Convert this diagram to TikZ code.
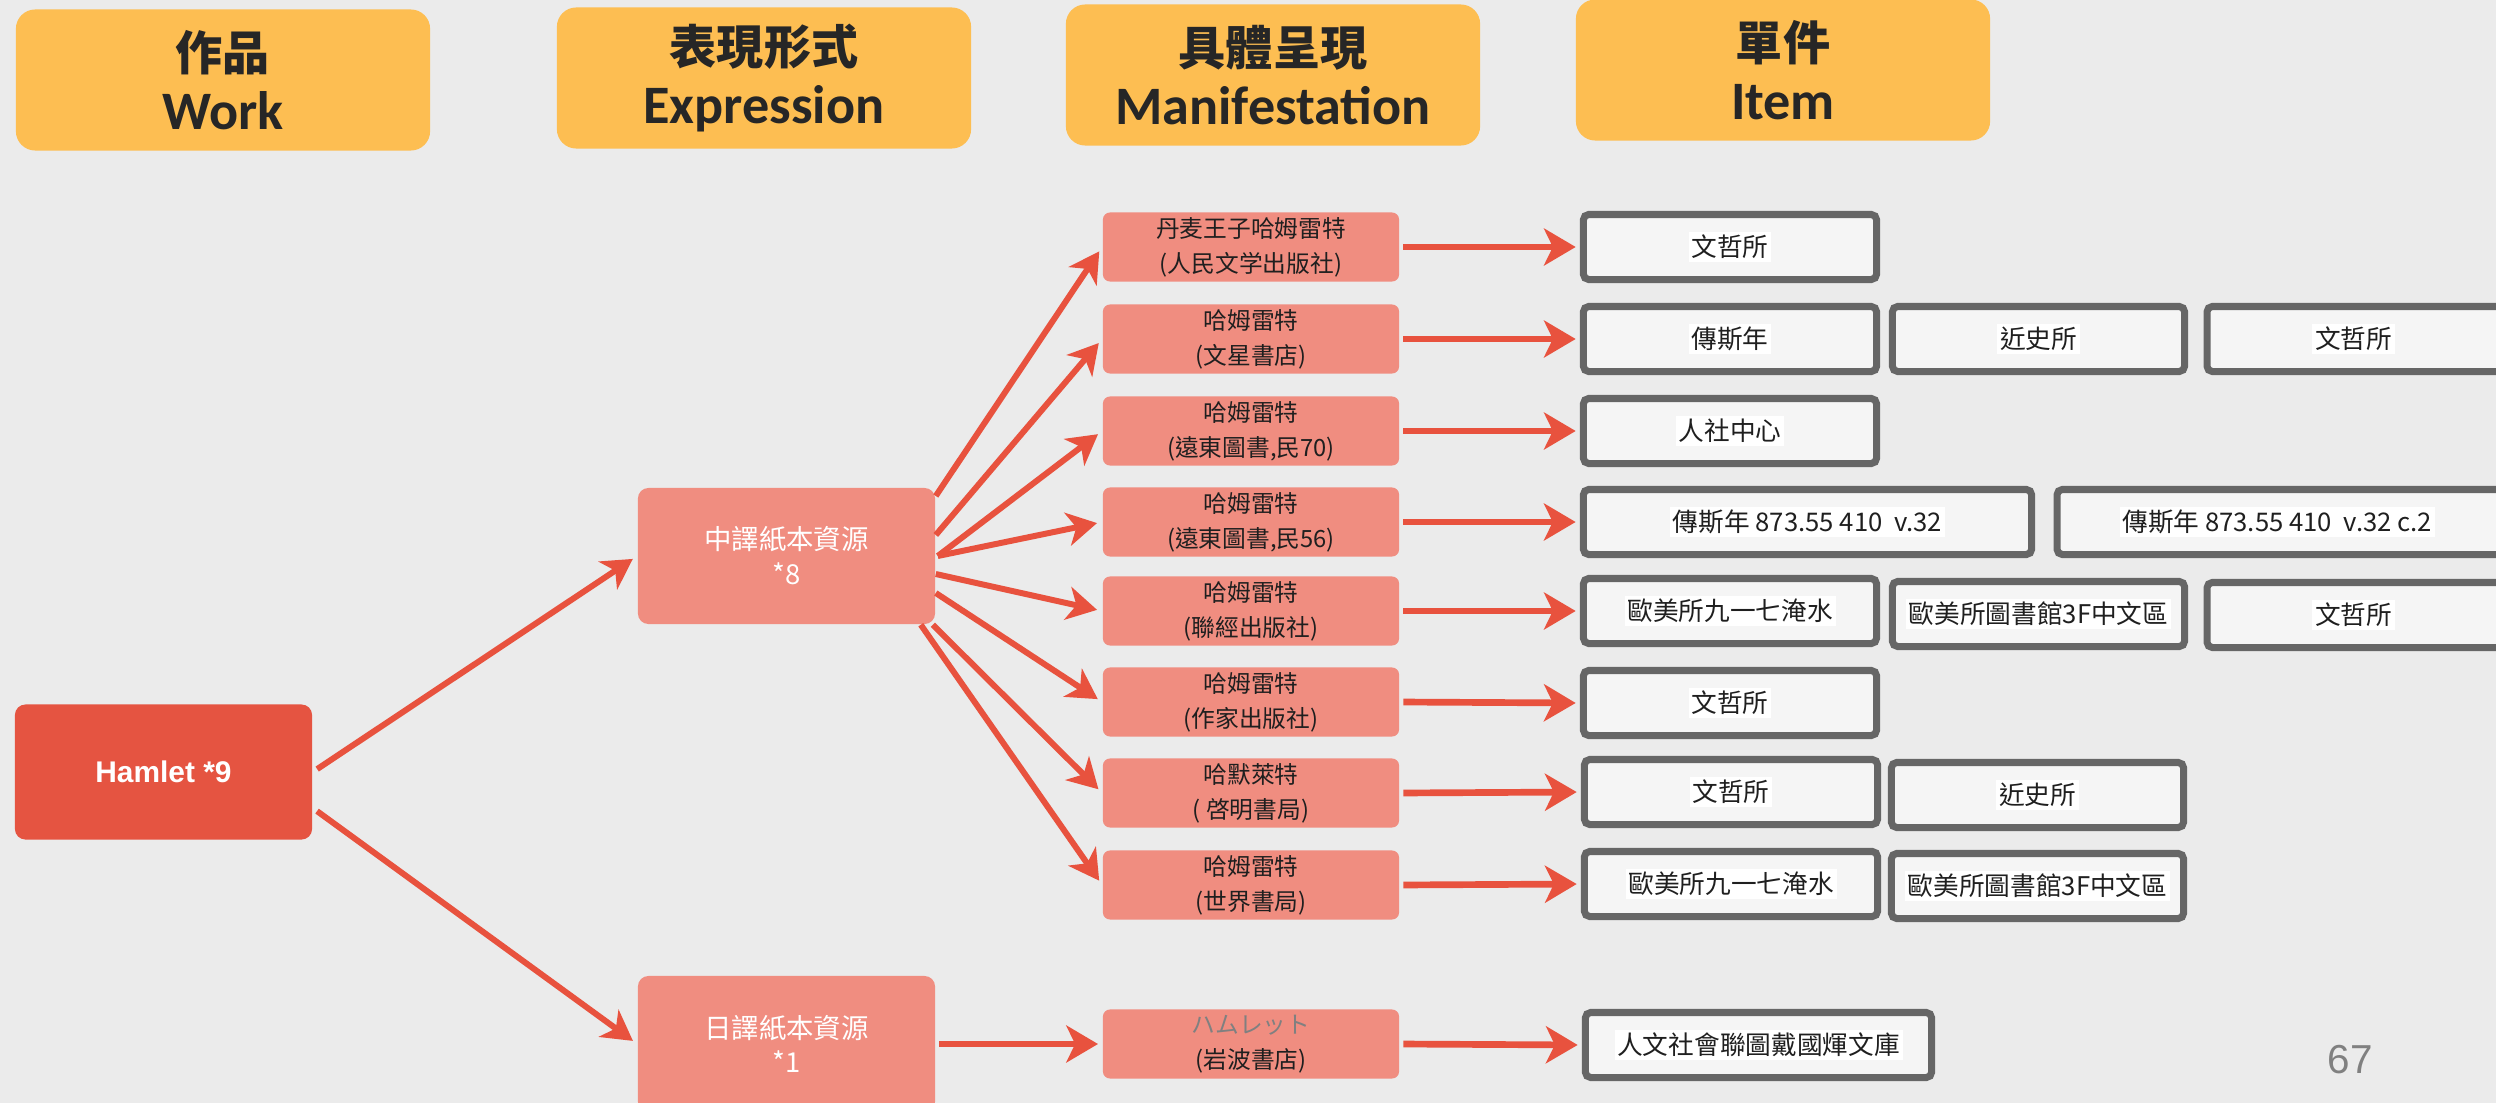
\documentclass[tikz,border=0pt]{standalone}
\usepackage{fontspec}
\setmainfont{Carlito}
\newfontfamily\cjk{Noto Sans CJK TC}
\newfontfamily\arialf{Liberation Sans}
\usetikzlibrary{arrows.meta}
\definecolor{bg}{HTML}{EBEBEB}
\definecolor{hdr}{HTML}{FDBE52}
\definecolor{salmon}{HTML}{F08D80}
\definecolor{hamred}{HTML}{E55441}
\definecolor{arr}{HTML}{E8523E}
\definecolor{itemfill}{HTML}{F5F5F5}
\definecolor{itemline}{HTML}{666666}
\definecolor{txt}{HTML}{262626}
\definecolor{pgray}{HTML}{808080}
\newcommand\hdrcjk[1]{{\cjk\bfseries\fontsize{13.4}{16.2}\selectfont #1}}
\newcommand\itx[1]{{\setlength\fboxsep{0.8pt}\colorbox{white}{#1}}}
\begin{document}
\begin{tikzpicture}[x=0.01cm,y=-0.01cm,
  hdrbox/.style={fill=hdr, rounded corners=5.5pt, minimum width=4.14cm, minimum height=1.41cm, inner sep=0pt, align=center, text=txt, font=\bfseries\fontsize{15.4}{16.6}\selectfont},
  manbox/.style={fill=salmon, rounded corners=2pt, minimum width=2.96cm, minimum height=0.69cm, inner sep=0pt, align=center, text=black!88, font=\cjk\fontsize{6.75}{9.9}\selectfont},
  exbox/.style={fill=salmon, rounded corners=3pt, minimum width=2.97cm, minimum height=1.36cm, inner sep=0pt, align=center, text=white, font=\cjk\fontsize{7.8}{9.9}\selectfont},
  hambox/.style={fill=hamred, rounded corners=3pt, minimum width=2.97cm, minimum height=1.35cm, inner sep=0pt, align=center, text=white, font=\arialf\bfseries\fontsize{8.5}{10}\selectfont},
  itembox/.style={draw=itemline, line width=2pt, fill=itemfill, rounded corners=1.5pt, minimum height=0.65cm, inner sep=0pt, align=center, text=black!88, font=\cjk\fontsize{7.3}{9}\selectfont},
  harr/.style={draw=arr, line width=1.9pt, shorten >=1.2pt, -{Stealth[length=9pt, width=10.5pt, inset=2.5pt]}},
  farr/.style={draw=arr, line width=1.7pt, shorten >=1.5pt, -{Stealth[length=8.5pt, width=9.5pt, inset=2.5pt]}}
]
\useasboundingbox (0,0) rectangle (2496,1103);
\clip (0,0) rectangle (2496,1103);
\fill[bg] (0,0) rectangle (2496,1103);

% headers
\node[hdrbox] (hw) at (223,80) {\hdrcjk{作品}\\Work};
\node[hdrbox] (he) at (764,78) {\hdrcjk{表現形式}\\Expression};
\node[hdrbox] (hm) at (1273,75) {\hdrcjk{具體呈現}\\Manifestation};
\node[hdrbox] (hi) at (1783,70) {\hdrcjk{單件}\\Item};

% work and expressions
\node[hambox] (ham) at (163.5,772) {Hamlet *9};
\node[exbox] (zh) at (786.5,556) {中譯紙本資源\\*8};
\node[exbox] (ja) at (786.5,1044) {日譯紙本資源\\*1};

% manifestations
\node[manbox] (m1) at (1251,247) {丹麦王子哈姆雷特\\(人民文学出版社)};
\node[manbox] (m2) at (1251,339) {哈姆雷特\\(文星書店)};
\node[manbox] (m3) at (1251,431) {哈姆雷特\\(遠東圖書,民70)};
\node[manbox] (m4) at (1251,522) {哈姆雷特\\(遠東圖書,民56)};
\node[manbox] (m5) at (1251,611) {哈姆雷特\\(聯經出版社)};
\node[manbox] (m6) at (1251,702) {哈姆雷特\\(作家出版社)};
\node[manbox] (m7) at (1251,793) {哈默萊特\\( 啓明書局)};
\node[manbox] (m8) at (1251,885) {哈姆雷特\\(世界書局)};
\node[manbox] (m9) at (1251,1044) {\textcolor{black!50}{ハムレット}\\(岩波書店)};

% items
\node[itembox, minimum width=2.93cm] (i1a) at (1730,247) {\itx{文哲所}};
\node[itembox, minimum width=2.93cm] (i2a) at (1730,339) {\itx{傳斯年}};
\node[itembox, minimum width=2.92cm] (i2b) at (2038.5,339) {\itx{近史所}};
\node[itembox, minimum width=3.53cm, anchor=west] (i2c) at (2203.5,339) {\hspace*{-0.6cm}\itx{文哲所}};
\node[itembox, minimum width=2.93cm] (i3a) at (1730,431) {\itx{人社中心}};
\node[itembox, minimum width=4.48cm] (i4a) at (1807.5,522) {\itx{傳斯年 873.55 410\ \ v.32}};
\node[itembox, minimum width=5.0cm, anchor=west] (i4b) at (2053.5,522) {\hspace*{-0.6cm}\itx{傳斯年 873.55 410\ \ v.32 c.2}};
\node[itembox, minimum width=2.93cm] (i5a) at (1730,611) {\itx{歐美所九一七淹水}};
\node[itembox, minimum width=2.92cm] (i5b) at (2038.5,614) {\itx{歐美所圖書館3F中文區}};
\node[itembox, minimum width=3.53cm, anchor=west] (i5c) at (2203.5,615) {\hspace*{-0.6cm}\itx{文哲所}};
\node[itembox, minimum width=2.93cm] (i6a) at (1730,703) {\itx{文哲所}};
\node[itembox, minimum width=2.93cm] (i7a) at (1731,792) {\itx{文哲所}};
\node[itembox, minimum width=2.92cm] (i7b) at (2037.5,795) {\itx{近史所}};
\node[itembox, minimum width=2.93cm] (i8a) at (1731,884) {\itx{歐美所九一七淹水}};
\node[itembox, minimum width=2.92cm] (i8b) at (2037.5,886) {\itx{歐美所圖書館3F中文區}};
\node[itembox, minimum width=3.46cm] (i9a) at (1758.5,1045) {\itx{人文社會聯圖戴國煇文庫}};

% page number
\node[text=pgray, font=\arialf\fontsize{11.5}{12}\selectfont] (pg) at (2350,1060) {67};

% work -> expressions
\draw[farr, shorten <=1.5pt] (ham.east) -- (zh.west);
\draw[farr, shorten <=1.5pt] ([yshift=-0.36cm]ham.east) -- (ja.west);

% expression -> manifestations
\draw[farr] ([yshift=0.6cm]zh.east) -- (m1.west);
\draw[farr] ([yshift=0.21cm]zh.east) -- (m2.west);
\draw[farr] ([xshift=0.02cm]zh.east) -- (m3.west);
\draw[farr] ([xshift=0.02cm]zh.east) -- (m4.west);
\draw[farr] ([yshift=-0.18cm]zh.east) -- (m5.west);
\draw[farr] ([yshift=-0.37cm]zh.east) -- (m6.west);
\draw[farr] ([xshift=-0.03cm]zh.south east) -- (m7.west);
\draw[farr] ([xshift=-0.15cm]zh.south east) -- (m8.west);
\draw[harr, shorten <=1pt] (ja.east) -- (m9.west);

% manifestations -> items
\draw[harr, shorten <=1pt] (m1.east) -- (i1a.west);
\draw[harr, shorten <=1pt] (m2.east) -- (i2a.west);
\draw[harr, shorten <=1pt] (m3.east) -- (i3a.west);
\draw[harr, shorten <=1pt] (m4.east) -- (i4a.west);
\draw[harr, shorten <=1pt] (m5.east) -- (i5a.west);
\draw[harr, shorten <=1pt] (m6.east) -- (i6a.west);
\draw[harr, shorten <=1pt] (m7.east) -- (i7a.west);
\draw[harr, shorten <=1pt] (m8.east) -- (i8a.west);
\draw[harr, shorten <=1pt] (m9.east) -- (i9a.west);
\end{tikzpicture}
\end{document}
